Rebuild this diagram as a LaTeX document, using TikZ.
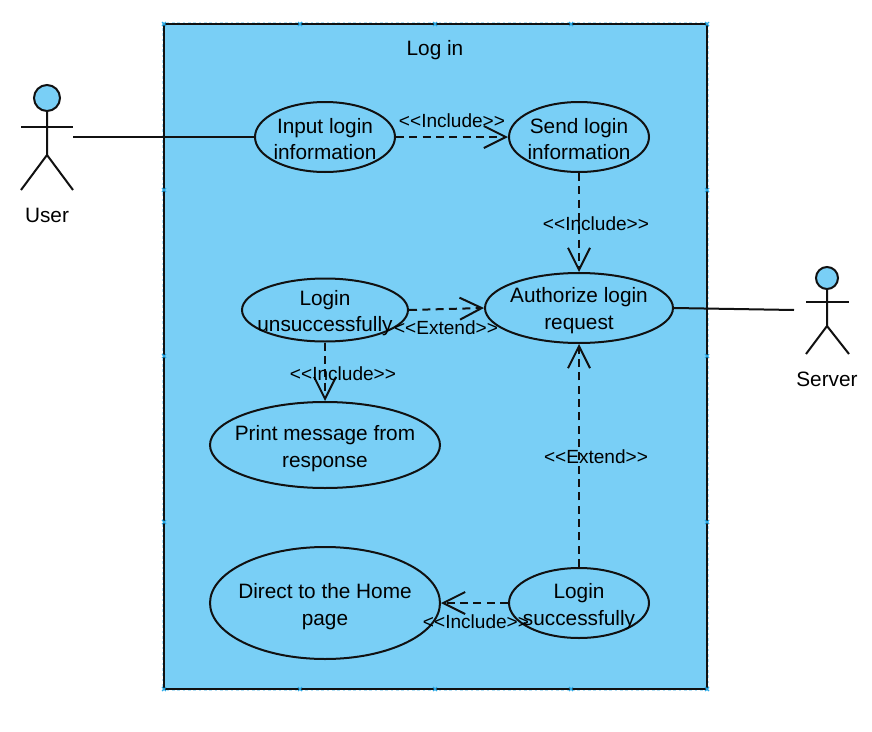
\documentclass[tikz,border=0pt]{standalone}
\usepackage{fontspec}
\setmainfont{Liberation Sans}
\usetikzlibrary{arrows.meta,shapes.geometric}
\definecolor{ucfill}{HTML}{79CFF6}
\definecolor{handle}{HTML}{29A9E6}
\definecolor{ink}{HTML}{111111}
\newcommand{\bigtxt}{\fontsize{15.6}{20}\selectfont}
\newcommand{\smalltxt}{\fontsize{14.3}{18}\selectfont}
\tikzset{
  x=0.75pt,y=-0.75pt,
  usecase/.style args={#1/#2/#3/#4}{ellipse,draw=ink,fill=ucfill,line width=1.5pt,inner sep=0pt,
     minimum width=#1*0.75pt,minimum height=#2*0.75pt,
     label={[align=center,text=black,font=\bigtxt,yshift=-#3*0.75pt]center:#4}},
  assoc/.style={draw=ink,line width=1.5pt},
  dep/.style={draw=ink,line width=1.5pt,dash pattern=on 6pt off 4pt,
     -{Straight Barb[length=16.5pt,width=16.5pt,line width=1.5pt]}},
  stereo/.style={font=\smalltxt,text=black,inner sep=0pt},
  title/.style={font=\bigtxt,text=black,inner sep=0pt},
  limb/.style={draw=ink,line width=1.5pt},
  hmark/.style={draw=handle,line width=0.8pt},
}
\begin{document}
\begin{tikzpicture}
\useasboundingbox (0,0) rectangle (872,732);
% system boundary
\fill[ucfill] (164,24) rectangle (707,689);
\draw[handle!35,line width=0.6pt,dash pattern=on 2pt off 2pt] (162.5,22.5) rectangle (708.5,690.5);
\draw[draw=ink,line width=1.5pt] (164,24) rectangle (707,689);
\foreach \px/\py in {164/24,300/24,435/24,571/24,707/24,164/190,164/356,164/522,164/689,300/689,435/689,571/689,707/689,707/190,707/356,707/522}{
  \draw[hmark] (\px-2,\py-2) -- (\px+2,\py+2) (\px-2,\py+2) -- (\px+2,\py-2);
}
\node[title] (title) at (435,50) {Log in};
% use cases
\node[usecase={140/70/2/Input login\\information}] (input) at (325,137) {};
\node[usecase={140/70/2/Send login\\information}] (send) at (579,137) {};
\node[usecase={188/70/2.5/Authorize login\\request}] (auth) at (579,308) {};
\node[usecase={166/63/3/Login\\unsuccessfully}] (fail) at (325,310) {};
\node[usecase={230/86/3.5/Print message from\\response}] (print) at (325,445) {};
\node[usecase={230/112/3.5/Direct to the Home\\page}] (home) at (325,603) {};
\node[usecase={140/70/3.5/Login\\successfully}] (ok) at (579,603) {};
% actors
\node[circle,draw=ink,fill=ucfill,line width=1.5pt,inner sep=0pt,minimum size=19.5pt] (userhead) at (47,98) {};
\coordinate (userhip) at (47,155);
\draw[limb] (userhead) -- (userhip) -- (21,190);
\draw[limb] (userhip) -- (73,190);
\draw[limb] (21,127) -- (73,127);
\node[title] (user) at (47,215) {User};
\node[circle,draw=ink,fill=ucfill,line width=1.5pt,inner sep=0pt,minimum size=16.5pt] (serverhead) at (827,278) {};
\coordinate (serverhip) at (827,326);
\draw[limb] (serverhead) -- (serverhip) -- (806,354);
\draw[limb] (serverhip) -- (849,354);
\draw[limb] (806,302) -- (849,302);
\node[title] (server) at (827,379) {Server};
% associations
\coordinate (userhand) at (73,137);
\coordinate (serverhand) at (794,310);
\draw[assoc] (userhand) -- (input.west);
\draw[assoc] (auth.east) -- (serverhand);
% dependencies
\draw[dep] (input.east) -- (send.west);
\draw[dep] (send.south) -- (auth.north);
\draw[dep] (fail.east) -- (auth.west);
\draw[dep] (fail.south) -- (print.north);
\draw[dep] (ok.north) -- (auth.south);
\draw[dep] (ok.west) -- (home.east);
% stereotypes
\node[stereo] (s1) at (452,121) {<{}<Include>{}>};
\node[stereo] (s2) at (596,224) {<{}<Include>{}>};
\node[stereo] (s3) at (446,328) {<{}<Extend>{}>};
\node[stereo] (s4) at (343,374) {<{}<Include>{}>};
\node[stereo] (s5) at (596,457) {<{}<Extend>{}>};
\node[stereo] (s6) at (476,622) {<{}<Include>{}>};
\end{tikzpicture}
\end{document}
